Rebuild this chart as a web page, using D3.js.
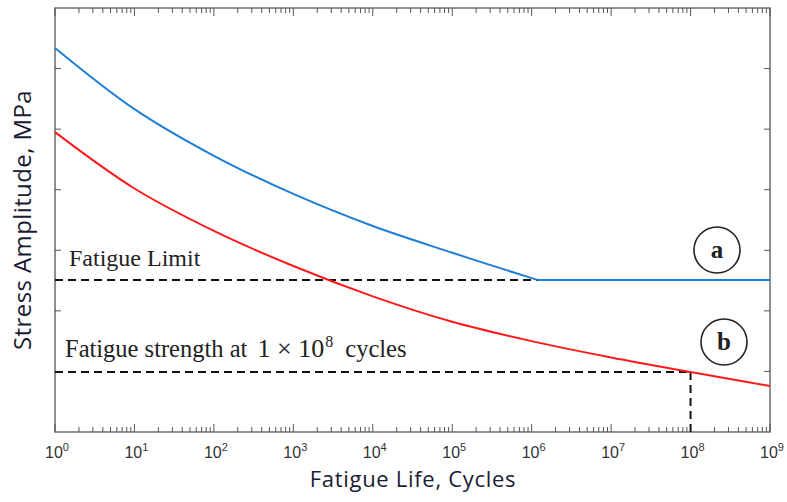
<!DOCTYPE html>
<html><head><meta charset="utf-8">
<script src="https://cdn.jsdelivr.net/npm/d3@7"></script>
<style>body{margin:0;background:#fff}svg{display:block}</style>
</head><body>
<script>
// Data (x as cycles, y as stress amplitude in arbitrary units 0..7)
const blueCycles = [1, 10, 100, 1e3, 1e4, 1e5, 1e6, 1.2e6, 1e9];
const blueStress = [6.34, 5.33, 4.56, 3.93, 3.40, 2.96, 2.54, 2.51, 2.51];
const redCycles  = [1, 10, 100, 1e3, 1e4, 1e5, 1e6, 1e7, 1e8, 1e9];
const redStress  = [4.95, 4.02, 3.32, 2.74, 2.24, 1.82, 1.50, 1.23, 0.99, 0.76];
const fatigueLimit = 2.51;
const kneeCycles = 1.2e6;
const strengthAt1e8 = 0.99;
const decadeExps = [0,1,2,3,4,5,6,7,8,9];
const yTickValues = [1,2,3,4,5,6];

const W = 787, H = 502;
const m = {l:55, t:8, r:770, b:432};
const svg = d3.select("body").append("svg").attr("width", W).attr("height", H);
const x = d3.scaleLog().domain([1, 1e9]).range([m.l, m.r]);
const y = d3.scaleLinear().domain([0, 7]).range([m.b, m.t]);
const axisCol = "#555";

// frame
svg.append("rect").attr("x", m.l).attr("y", m.t).attr("width", m.r-m.l).attr("height", m.b-m.t)
  .attr("fill","none").attr("stroke", axisCol).attr("stroke-width",1.3);

// ticks: bottom & top (inward)
const minor = [];
for (let e=0;e<9;e++) for (let k=2;k<=9;k++) minor.push(k*Math.pow(10,e));
const majors = decadeExps.map(e=>Math.pow(10,e));
const tg = svg.append("g").attr("stroke", axisCol).attr("stroke-width",1);
minor.forEach(v=>{
  tg.append("line").attr("x1",x(v)).attr("x2",x(v)).attr("y1",m.b).attr("y2",m.b-5);
  tg.append("line").attr("x1",x(v)).attr("x2",x(v)).attr("y1",m.t).attr("y2",m.t+5);
});
majors.forEach(v=>{
  tg.append("line").attr("x1",x(v)).attr("x2",x(v)).attr("y1",m.b).attr("y2",m.b-8);
  tg.append("line").attr("x1",x(v)).attr("x2",x(v)).attr("y1",m.t).attr("y2",m.t+8);
});
yTickValues.forEach(v=>{
  tg.append("line").attr("x1",m.l).attr("x2",m.l+6).attr("y1",y(v)).attr("y2",y(v));
  tg.append("line").attr("x1",m.r).attr("x2",m.r-6).attr("y1",y(v)).attr("y2",y(v));
});

// x tick labels
const lab = svg.append("g").attr("font-family","Liberation Sans, Arial, sans-serif").attr("fill","#333");
decadeExps.forEach(e=>{
  const t = lab.append("text").attr("x", x(Math.pow(10,e))+2).attr("y", 458)
    .attr("text-anchor","middle").attr("font-size",16);
  t.append("tspan").text("10");
  t.append("tspan").attr("dy",-7).attr("font-size",11).text(e);
});

// axis titles
svg.append("text").attr("x", 413).attr("y", 487).attr("text-anchor","middle")
  .attr("font-family","Open Sans, Liberation Sans, sans-serif").attr("font-size",22).attr("letter-spacing",0.7).attr("fill","#1a1a33")
  .text("Fatigue Life, Cycles");
svg.append("text").attr("transform","translate(31,220) rotate(-90)").attr("text-anchor","middle")
  .attr("font-family","Open Sans, Liberation Sans, sans-serif").attr("font-size",24).attr("letter-spacing",0.4).attr("fill","#1a1a33")
  .text("Stress Amplitude, MPa");

// dashed reference lines
const dg = svg.append("g").attr("stroke","#111").attr("stroke-width",2).attr("stroke-dasharray","8,5").attr("fill","none");
dg.append("line").attr("x1", x(1)).attr("x2", x(kneeCycles)).attr("y1", y(fatigueLimit)).attr("y2", y(fatigueLimit));
dg.append("line").attr("x1", x(1)).attr("x2", x(1e8)).attr("y1", y(strengthAt1e8)).attr("y2", y(strengthAt1e8));
dg.append("line").attr("x1", x(1e8)).attr("x2", x(1e8)).attr("y1", y(strengthAt1e8)).attr("y2", m.b);

// curves
const smooth = d3.line().x(d=>x(d[0])).y(d=>y(d[1])).curve(d3.curveCatmullRom.alpha(0.5));
const straight = d3.line().x(d=>x(d[0])).y(d=>y(d[1]));
const bluePts = blueCycles.map((c,i)=>[c,blueStress[i]]);
svg.append("path").datum(bluePts.slice(0,8))
  .attr("d", smooth).attr("fill","none").attr("stroke","#1f7fd4").attr("stroke-width",2);
svg.append("path").datum(bluePts.slice(7))
  .attr("d", straight).attr("fill","none").attr("stroke","#1f7fd4").attr("stroke-width",2);
svg.append("path").datum(redCycles.map((c,i)=>[c,redStress[i]]))
  .attr("d", smooth).attr("fill","none").attr("stroke","#ff1a1a").attr("stroke-width",2);

// annotations
const serif = "Liberation Serif, Times New Roman, serif";
svg.append("text").attr("x", 69).attr("y", 266).attr("font-family", serif).attr("font-size",24).attr("fill","#222")
  .text("Fatigue Limit");
const fs = svg.append("text").attr("x", 65).attr("y", 357).attr("font-family", serif).attr("font-size",24.5).attr("fill","#222");
fs.append("tspan").text("Fatigue strength at ");
fs.append("tspan").attr("dx",4).attr("font-size",26).text("1 × 10");
fs.append("tspan").attr("dx",1).attr("dy",-10).attr("font-size",16).text("8");
fs.append("tspan").attr("dx",6).attr("dy",10).text(" cycles");

[["a",717,250],["b",724,342]].forEach(([t,cx,cy])=>{
  svg.append("circle").attr("cx",cx).attr("cy",cy).attr("r",23).attr("fill","#fff").attr("stroke","#222").attr("stroke-width",1.6);
  svg.append("text").attr("x",cx).attr("y",cy+8).attr("text-anchor","middle").attr("font-family",serif)
    .attr("font-weight","bold").attr("font-size",25).attr("fill","#222").text(t);
});
</script>
</body></html>
